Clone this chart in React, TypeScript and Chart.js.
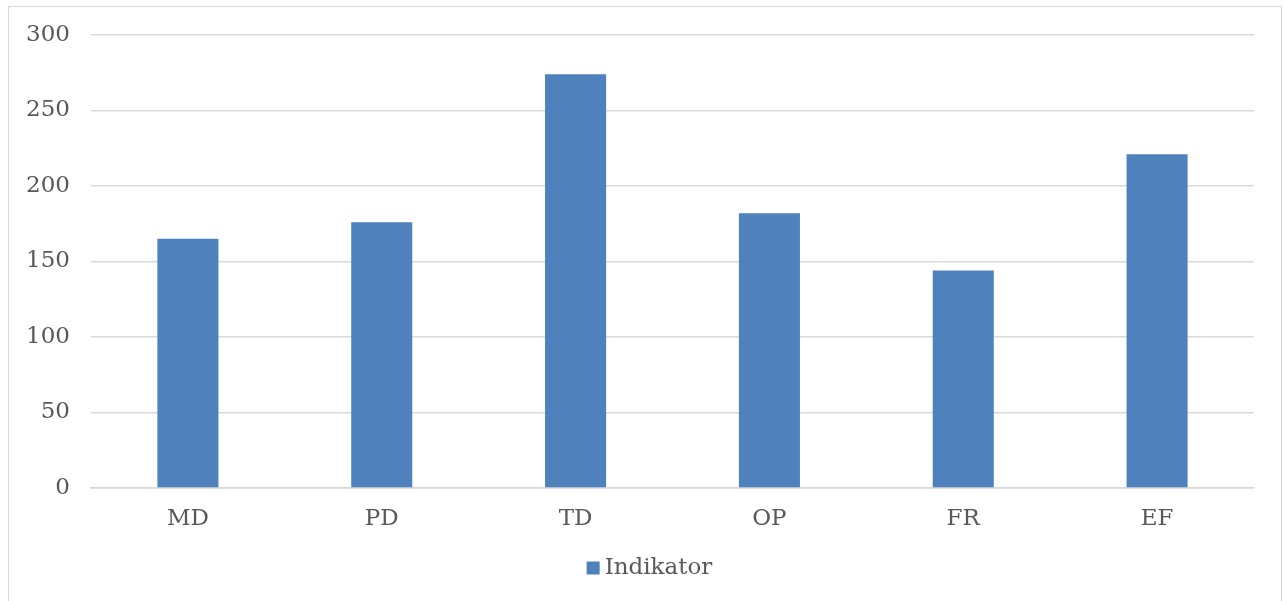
import React, { useEffect, useRef } from "react";
import { Chart, registerables } from "chart.js";

Chart.register(...registerables);

const categories = ["MD", "PD", "TD", "OP", "FR", "EF"];
const indikatorValues = [165, 176, 274, 182, 144, 221];
const seriesLabel = "Indikator";
const yMin = 0;
const yMax = 300;
const yStep = 50;

const textColor = "#595959";
const gridColor = "#d9d9d9";
const barColor = "#4f81bd";
const fontFamily = "'DejaVu Serif', serif";
const fontSize = 23;

// Compact legend below the axis: a small square swatch followed closely by the series name.
const bottomLegend = {
  id: "bottomLegend",
  afterDraw(chart: any) {
    const ctx = chart.ctx;
    const ds = chart.data.datasets[0];
    const box = 13;
    const gap = 5;
    ctx.save();
    ctx.font = `${fontSize}px ${fontFamily}`;
    const textWidth = ctx.measureText(ds.label).width;
    const total = box + gap + textWidth;
    const startX = chart.width / 2 + 4.5 - total / 2;
    const cy = chart.height - 37;
    ctx.fillStyle = ds.backgroundColor;
    ctx.fillRect(startX, cy - box / 2, box, box);
    ctx.fillStyle = textColor;
    ctx.textBaseline = "middle";
    ctx.textAlign = "left";
    ctx.fillText(ds.label, startX + box + gap, cy);
    ctx.restore();
  },
};

export default function App() {
  const canvasRef = useRef<HTMLCanvasElement | null>(null);

  useEffect(() => {
    if (!canvasRef.current) return;
    const chart = new Chart(canvasRef.current, {
      type: "bar",
      data: {
        labels: categories,
        datasets: [
          {
            label: seriesLabel,
            data: indikatorValues,
            backgroundColor: barColor,
            borderWidth: 0,
            barPercentage: 0.315,
            categoryPercentage: 1,
          },
        ],
      },
      options: {
        animation: false,
        responsive: true,
        maintainAspectRatio: false,
        layout: { padding: { top: 28, right: 27, left: 0, bottom: 0 } },
        plugins: {
          tooltip: { enabled: false },
          legend: { display: false },
        },
        scales: {
          x: {
            grid: { display: false, drawTicks: false },
            border: { display: true, color: gridColor, width: 1.5 },
            ticks: {
              color: textColor,
              font: { family: fontFamily, size: fontSize },
              padding: 17,
              maxRotation: 0,
            },
            afterFit: (scale: any) => {
              scale.height = 117;
            },
          },
          y: {
            min: yMin,
            max: yMax,
            grid: { color: gridColor, lineWidth: 1.5, drawTicks: false },
            border: { display: false },
            ticks: {
              stepSize: yStep,
              color: textColor,
              font: { family: fontFamily, size: fontSize },
              padding: 21,
            },
            afterFit: (scale: any) => {
              scale.width = 82;
              scale.paddingTop = 0;
              scale.paddingBottom = 0;
            },
          },
        },
      },
      plugins: [bottomLegend],
    });
    return () => chart.destroy();
  }, []);

  return (
    <div
      style={{
        position: "fixed",
        left: 8,
        top: 6,
        width: 1274,
        height: 600,
        border: "1px solid #d9d9d9",
        boxSizing: "border-box",
        background: "#ffffff",
      }}
    >
      <canvas ref={canvasRef} />
    </div>
  );
}
